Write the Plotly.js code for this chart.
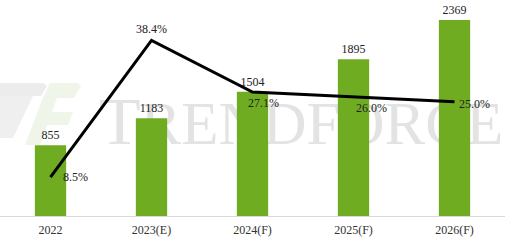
<!DOCTYPE html>
<html>
<head>
<meta charset="utf-8">
<script src="https://cdn.plot.ly/plotly-3.0.1.min.js"></script>
<style>html,body{margin:0;padding:0;background:#fff;}#chart{width:519px;height:245px;}</style>
</head>
<body>
<div id="chart"></div>
<script>
const categories = ['2022', '2023(E)', '2024(F)', '2025(F)', '2026(F)'];
const barValues = [855, 1183, 1504, 1895, 2369];
const growthPct = [8.5, 38.4, 27.1, 26.0, 25.0];
const growthLabels = ['8.5%', '38.4%', '27.1%', '26.0%', '25.0%'];

const serif = 'Liberation Serif, Times New Roman, serif';

// label placement (style only): anchor and pixel shifts for each growth label
const labelPlacement = [
  {xanchor: 'left', yanchor: 'middle', xshift: 10, yshift: 0},
  {xanchor: 'center', yanchor: 'bottom', xshift: 0, yshift: 2},
  {xanchor: 'center', yanchor: 'middle', xshift: 11, yshift: -11},
  {xanchor: 'center', yanchor: 'middle', xshift: 18, yshift: -11},
  {xanchor: 'left', yanchor: 'middle', xshift: 2, yshift: -2}
];

const traces = [
  {
    type: 'bar',
    x: categories,
    y: barValues,
    text: barValues.map(String),
    textposition: 'outside',
    textfont: {family: serif, size: 12, color: '#222'},
    marker: {color: '#6FAC22'},
    cliponaxis: false,
    hoverinfo: 'skip'
  },
  {
    type: 'scatter',
    mode: 'lines',
    x: categories,
    y: growthPct,
    yaxis: 'y2',
    line: {color: '#000', width: 3},
    cliponaxis: false,
    hoverinfo: 'skip'
  }
];

// category axis: annotations placed by category index
const annotations = categories.map((c, i) => Object.assign({
  x: i,
  y: growthPct[i],
  xref: 'x',
  yref: 'y2',
  text: growthLabels[i],
  showarrow: false,
  font: {family: serif, size: 12, color: '#222'}
}, labelPlacement[i]));

// watermark coordinates in paper units (plot area: x 0..505px, y 216..1px)
function px(x) { return (x / 505).toFixed(4); }
function py(y) { return ((216 - y) / 215).toFixed(4); }
function path(pts) { return 'M' + pts.map(p => px(p[0]) + ',' + py(p[1])).join(' L') + ' Z'; }

const layout = {
  width: 519,
  height: 245,
  margin: {l: 0, r: 14, t: 1, b: 29},
  paper_bgcolor: '#fff',
  plot_bgcolor: '#fff',
  showlegend: false,
  bargap: 0.69,
  xaxis: {
    type: 'category',
    range: [-0.5, 4.5],
    showline: true,
    linecolor: '#d9d9d9',
    linewidth: 1,
    ticks: '',
    ticklabelstandoff: 3,
    showgrid: false,
    zeroline: false,
    tickfont: {family: serif, size: 12, color: '#333'},
    fixedrange: true
  },
  yaxis: {
    range: [0, 2600],
    visible: false,
    showgrid: false,
    zeroline: false,
    fixedrange: true
  },
  yaxis2: {
    range: [0, 47],
    overlaying: 'y',
    side: 'right',
    visible: false,
    showgrid: false,
    zeroline: false,
    fixedrange: true
  },
  annotations: annotations,
  shapes: [
    {type: 'path', xref: 'paper', yref: 'paper', layer: 'below', line: {width: 0}, fillcolor: '#ececec',
      path: path([[0, 83], [43, 83], [47, 86], [41, 96], [0, 96]])},
    {type: 'path', xref: 'paper', yref: 'paper', layer: 'below', line: {width: 0}, fillcolor: '#efefef',
      path: path([[0, 96], [33, 96], [13, 138], [0, 138]])},
    {type: 'path', xref: 'paper', yref: 'paper', layer: 'below', line: {width: 0}, fillcolor: '#eff5e8',
      path: path([[50, 83], [78, 83], [81, 86], [74, 98], [43, 98]])},
    {type: 'path', xref: 'paper', yref: 'paper', layer: 'below', line: {width: 0}, fillcolor: '#eff5e8',
      path: path([[43, 98], [57, 98], [40, 145], [25, 145]])},
    {type: 'path', xref: 'paper', yref: 'paper', layer: 'below', line: {width: 0}, fillcolor: '#eff5e8',
      path: path([[50, 112], [73, 112], [68, 125], [45, 125]])},
    {type: 'rect', xref: 'paper', yref: 'paper', layer: 'below', line: {width: 0}, fillcolor: 'rgba(0,0,0,0)',
      x0: px(96), x1: px(505), y0: py(144), y1: py(84),
      label: {
        text: 'T<span style="font-size:61px">RENDFORCE</span>',
        textposition: 'middle left',
        font: {family: serif, size: 68, color: '#e3e3e3'},
        padding: 0
      }}
  ]
};

Plotly.newPlot('chart', traces, layout, {displayModeBar: false, staticPlot: true});
</script>
</body>
</html>
